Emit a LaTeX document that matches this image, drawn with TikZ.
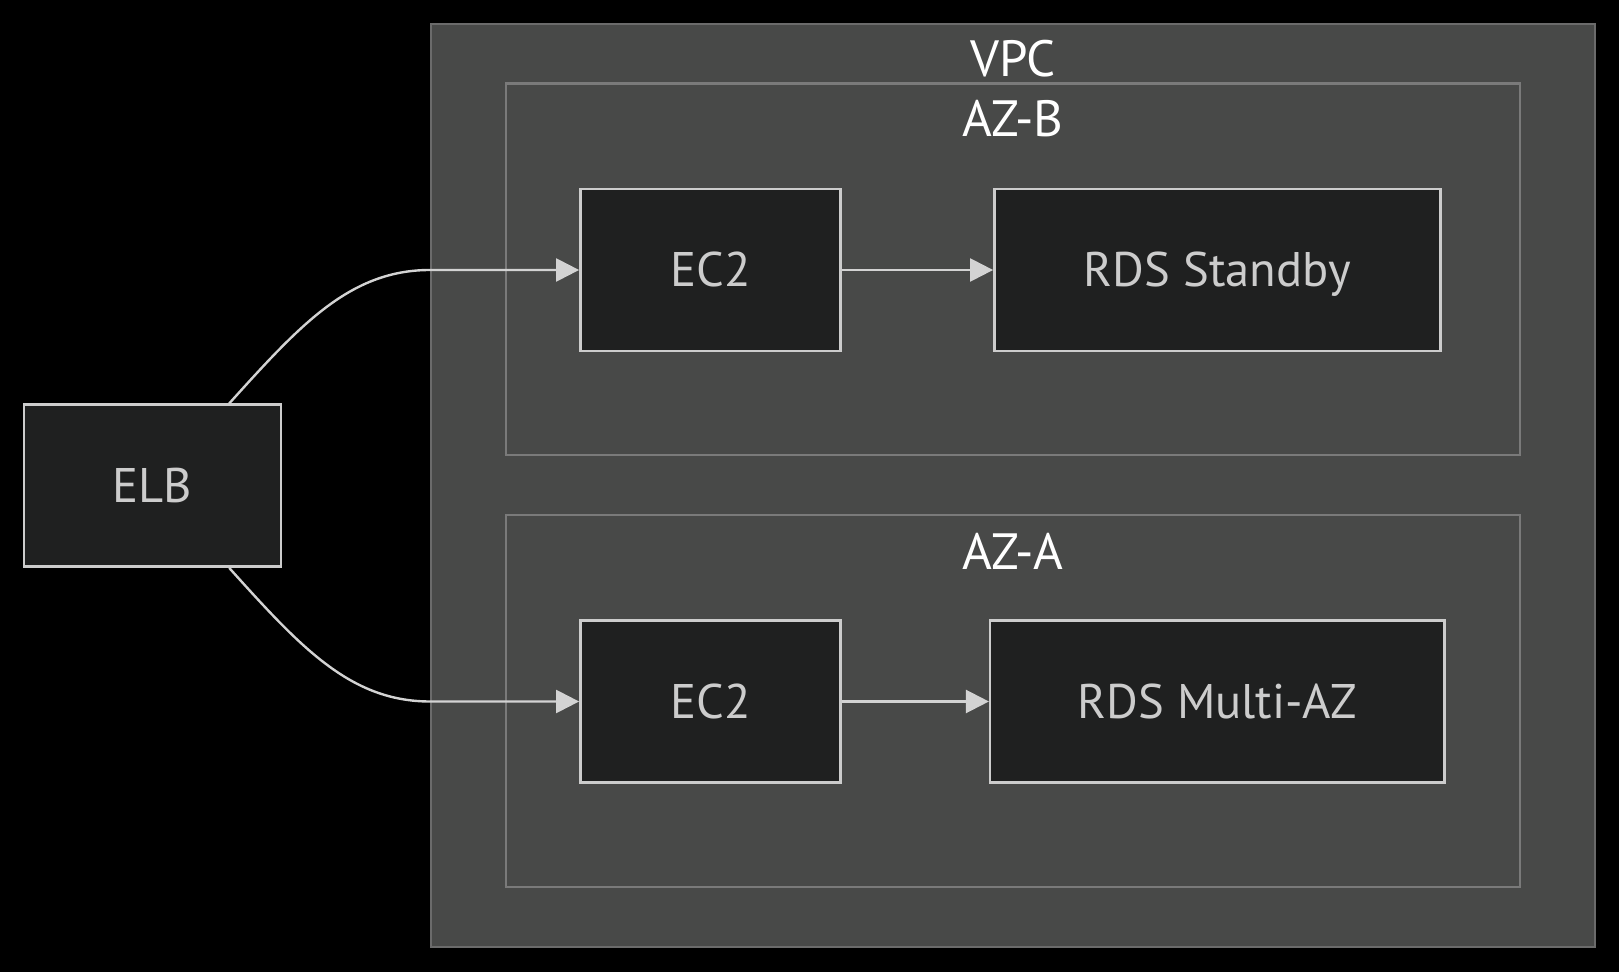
\documentclass[tikz,border=0pt]{standalone}
\usepackage{fontspec}
\setmainfont{PT Sans}
\usetikzlibrary{arrows.meta}
\definecolor{nodefill}{HTML}{1F2020}
\definecolor{nodeline}{HTML}{CCCCCC}
\definecolor{edgeline}{HTML}{D3D3D3}
\definecolor{vpcfill}{HTML}{484948}
\definecolor{vpcline}{HTML}{6B6B6B}
\definecolor{azline}{HTML}{7A7A7A}
\tikzset{
  svc/.style={draw=nodeline, line width=1.2pt, fill=nodefill, text=nodeline,
    minimum height=81pt, inner sep=0pt, text height=17pt, text depth=0pt,
    font=\fontsize{24.3}{28}\selectfont},
  grouptitle/.style={text=white, inner sep=0pt, text height=18pt, text depth=0pt,
    font=\fontsize{25.5}{28}\selectfont},
  flow/.style={draw=edgeline, line width=1.2pt, ->},
}
\begin{document}
\begin{tikzpicture}[x=0.5pt,y=-0.5pt,>={Triangle[length=11.5pt,width=11.5pt]}]

  \fill[black] (0,0) rectangle (1619,972);
  \useasboundingbox (0,0) rectangle (1619,972);

  \begin{scope}   % VPC a zony
    \def\Vl{430.6};
    \def\Vr{1595.2};
    \def\Al{506};
    \def\Ar{1519.8};
    \draw[fill=vpcfill, draw=vpcline, line width=1.1pt] (\Vl,23.7) rectangle (\Vr,946.8);
    \draw[fill=vpcfill, draw=azline, line width=1.1pt] (\Al,83.6) rectangle (\Ar,455.3);
    \draw[fill=vpcfill, draw=azline, line width=1.1pt] (\Al,515.2) rectangle (\Ar,886.9);

    \node[grouptitle] (vpcT) at (1013,58.9) {VPC};
    \node[grouptitle] (azbT) at (1013,118.7) {AZ-B};
    \node[grouptitle] (azaT) at (1013,551.4) {AZ-A};
  \end{scope}

  \node[svc, minimum width=128.5pt] (elb) at (152.2,485.7) {ELB};
  \node[svc, minimum width=130.1pt] (ecB) at (710.4,270) {EC2};
  \node[svc, minimum width=223pt] (rdsB) at (1217.3,270) {RDS Standby};
  \node[svc, minimum width=130.1pt] (ecA) at (710.4,701.5) {EC2};
  \node[svc, minimum width=227.2pt] (rdsA) at (1217.3,701.5) {RDS Multi-AZ};

  \draw[flow] ([xshift=38.5pt]elb.north) .. controls (300,325) and (350,270) .. (430,270) -- (ecB.west);
  \draw[flow] ([xshift=38.5pt]elb.south) .. controls (300,646.5) and (350,701.5) .. (430,701.5) -- (ecA.west);
  \draw[flow] (ecB.east) -- (rdsB.west);
  \draw[flow] (ecA.east) -- (rdsA.west);

\end{tikzpicture}
\end{document}
